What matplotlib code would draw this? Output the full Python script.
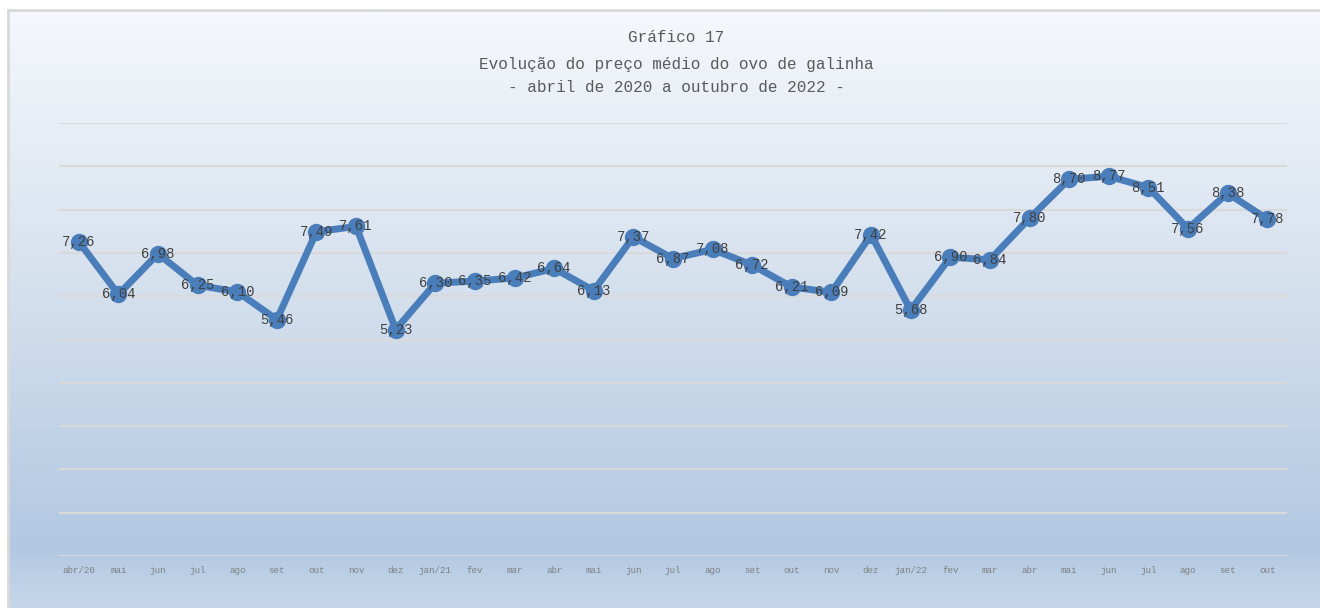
import numpy as np
import matplotlib
matplotlib.use("Agg")
import matplotlib.pyplot as plt
from matplotlib.colors import LinearSegmentedColormap

plt.rcParams['font.family'] = ['Liberation Mono', 'DejaVu Sans Mono']

# data
meses = ['abr/20', 'mai', 'jun', 'jul', 'ago', 'set', 'out', 'nov', 'dez',
         'jan/21', 'fev', 'mar', 'abr', 'mai', 'jun', 'jul', 'ago', 'set', 'out', 'nov', 'dez',
         'jan/22', 'fev', 'mar', 'abr', 'mai', 'jun', 'jul', 'ago', 'set', 'out']
precos = [7.26, 6.04, 6.98, 6.25, 6.10, 5.46, 7.49, 7.61, 5.23,
          6.30, 6.35, 6.42, 6.64, 6.13, 7.37, 6.87, 7.08, 6.72, 6.21, 6.09, 7.42,
          5.68, 6.90, 6.84, 7.80, 8.70, 8.77, 8.51, 7.56, 8.38, 7.78]

W, H = 1320, 608
fig = plt.figure(figsize=(W / 100, H / 100), dpi=100)
fig.patch.set_facecolor('white')

# gradient background of the chart area
bg = fig.add_axes([8 / W, 0, 1 - 8 / W, (H - 11) / H])
cmap = LinearSegmentedColormap.from_list('fundo', [
    (0.0, '#f5f8fc'), (0.45, '#d6e1ee'), (0.9, '#b2c8e2'), (1.0, '#c6d7ea')])
grad = np.linspace(0, 1, 256).reshape(-1, 1)
bg.imshow(grad, aspect='auto', cmap=cmap, extent=[0, 1, 0, 1], origin='upper')
bg.set_xlim(0, 1)
bg.set_ylim(0, 1)
bg.axis('off')
fig.add_artist(plt.Line2D([8 / W, 8 / W], [0, (H - 10) / H], color='#d9d9d9', lw=2))
fig.add_artist(plt.Line2D([8 / W, 1], [(H - 10) / H, (H - 10) / H], color='#d9d9d9', lw=2))

ax = fig.add_axes([59 / W, 52 / H, (1287 - 59) / W, (556 - 123) / H])
ax.set_facecolor('none')
x = np.arange(len(precos))
ax.plot(x, precos, color='#4a7ebb', lw=5, marker='o', markersize=11.5,
        solid_joinstyle='round', zorder=3)
for xi, v in zip(x, precos):
    ax.text(xi, v, f'{v:.2f}'.replace('.', ','), ha='center', va='center',
            fontsize=10, color='#404040', zorder=4)

ax.set_xlim(-0.5, len(precos) - 0.5)
ax.set_ylim(0, 10)
ax.set_yticks(np.arange(0, 11, 1))
ax.yaxis.grid(True, color='#d9d9d9', lw=1.5)
ax.set_axisbelow(True)
ax.set_yticklabels([])
ax.tick_params(axis='y', length=0)
ax.set_xticks(x)
ax.set_xticklabels(meses, fontsize=6.6, color='#7f7f7f')
ax.tick_params(axis='x', length=0, pad=7)
for s in ax.spines.values():
    s.set_visible(False)

fig.text(676 / W, 1 - 38 / H, 'Gráfico 17', ha='center', va='center', fontsize=11.5, color='#595959')
fig.text(676 / W, 1 - 64 / H, 'Evolução do preço médio do ovo de galinha', ha='center', va='center',
         fontsize=11.5, color='#595959')
fig.text(676 / W, 1 - 88 / H, '- abril de 2020 a outubro de 2022 -', ha='center', va='center',
         fontsize=11.5, color='#595959')

fig.savefig('out.png', dpi=100)
